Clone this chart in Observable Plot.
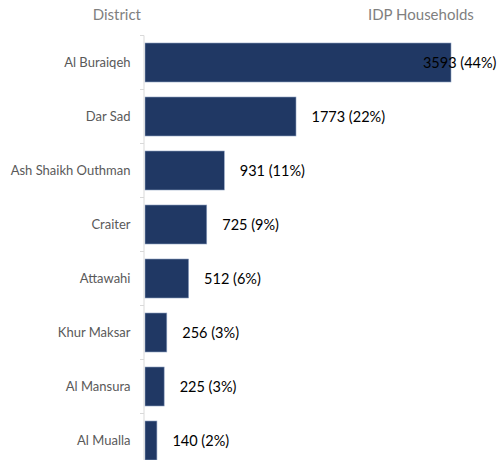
<!DOCTYPE html>
<html>
<head>
<meta charset="utf-8">
<script src="https://cdn.jsdelivr.net/npm/d3@7"></script>
<script src="https://cdn.jsdelivr.net/npm/@observablehq/plot@0.6"></script>
<style>
  html, body { margin: 0; padding: 0; background: #fff; overflow: hidden; }
  #wrap { position: relative; width: 499px; font-family: Lato, "Open Sans", sans-serif; }
  #head { position: relative; height: 33px; }
  #head span { position: absolute; top: 5px; font-size: 15px; color: #7f7f7f; }
  svg { display: block; }
</style>
</head>
<body>
<div id="wrap">
  <div id="head">
    <span id="h1"></span>
    <span id="h2"></span>
  </div>
  <div id="chart"></div>
</div>
<script>
const headerLeft = "District";
const headerRight = "IDP Households";
const districts = ["Al Buraiqeh", "Dar Sad", "Ash Shaikh Outhman", "Craiter", "Attawahi", "Khur Maksar", "Al Mansura", "Al Mualla"];
const households = [3593, 1773, 931, 725, 512, 256, 225, 140];
const shares = [44, 22, 11, 9, 6, 3, 3, 2];

document.getElementById("h1").textContent = headerLeft;
document.getElementById("h2").textContent = headerRight;
document.getElementById("h1").style.right = (499 - 141) + "px";
document.getElementById("h2").style.left = "368px";

const data = districts.map((d, i) => ({district: d, value: households[i], share: shares[i]}));
const maxVal = d3.max(households);
const label = d => `${d.value} (${d.share}%)`;

// axis line + ticks between categories
function bandAxis(index, scales, values, dims) {
  const y = scales.y;
  const bw = y.bandwidth();
  const step = y.step();
  const gap = (step - bw) / 2;
  const x0 = dims.marginLeft - 1;
  const g = d3.create("svg:g").attr("stroke", "#d9d9d9").attr("stroke-width", 1);
  const doms = y.domain();
  const top = y(doms[0]) - gap;
  const bottom = y(doms[doms.length - 1]) + bw + gap;
  g.append("line").attr("x1", x0).attr("x2", x0).attr("y1", top).attr("y2", bottom);
  const bounds = [top, ...doms.map(d => y(d) + bw + gap)];
  for (const b of bounds) {
    g.append("line").attr("x1", x0 - 4).attr("x2", x0).attr("y1", b).attr("y2", b);
  }
  return g.node();
}

const chart = Plot.plot({
  width: 499,
  height: 437,
  marginTop: 0,
  marginBottom: 0,
  marginLeft: 145,
  marginRight: 48,
  style: {fontFamily: "Lato, 'Open Sans', sans-serif", background: "#fff"},
  x: {domain: [0, maxVal], axis: null},
  y: {domain: districts, paddingInner: 0.27, paddingOuter: 0.135, label: null},
  marks: [
    Plot.barX(data, {x: "value", y: "district", fill: "#203864", stroke: "#8ea0c0", strokeWidth: 0.6}),
    Plot.axisY({tickSize: 0, tickPadding: 15, fontSize: 13, fill: "#595959", label: null}),
    Plot.text(data.filter(d => d.value !== maxVal), {x: "value", y: "district", text: label, textAnchor: "start", dx: 15, fontSize: 14.5, fill: "#000"}),
    Plot.text(data.filter(d => d.value === maxVal), {y: "district", text: label, frameAnchor: "right", textAnchor: "end", dx: 45, fontSize: 14.5, fill: "#000"}),
    bandAxis
  ]
});
document.getElementById("chart").appendChild(chart);
</script>
</body>
</html>
